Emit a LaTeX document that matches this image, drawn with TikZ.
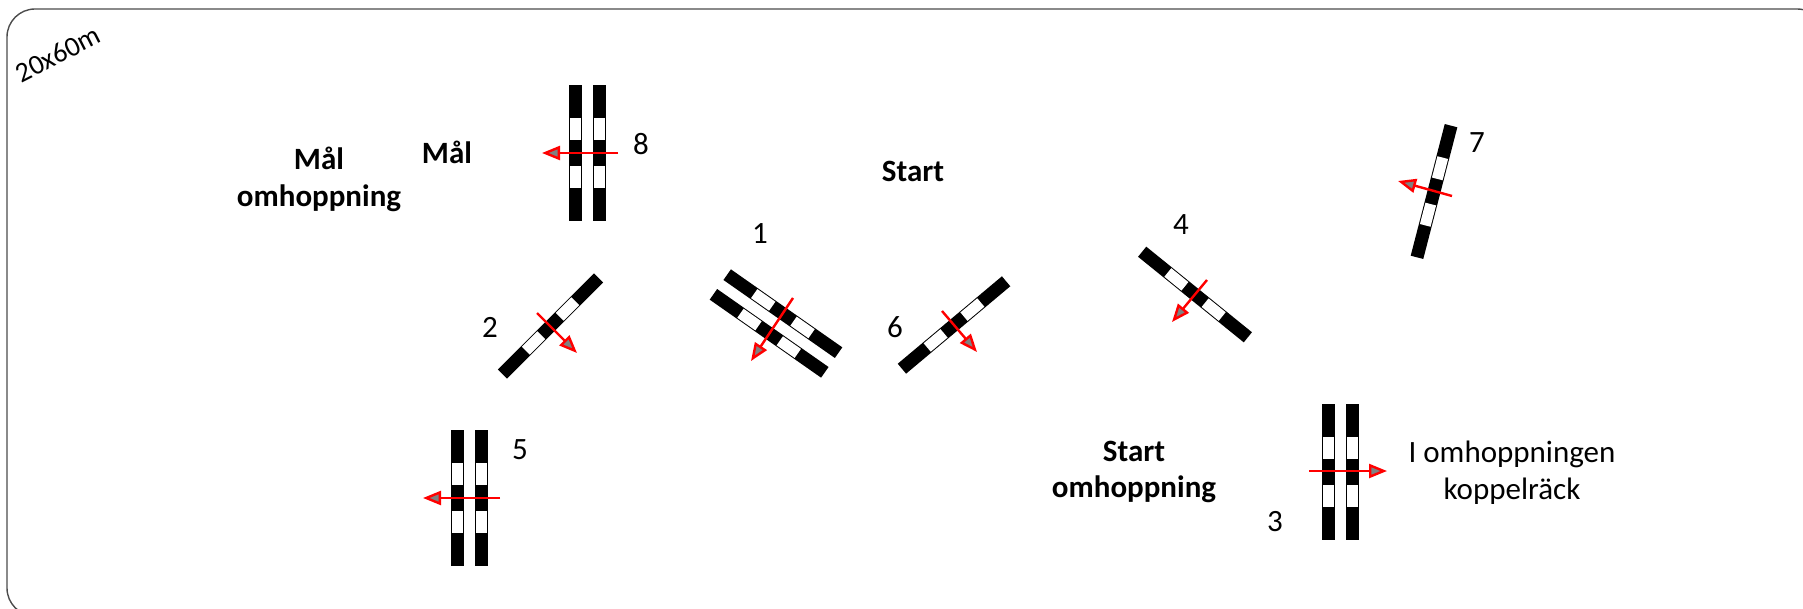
\documentclass[tikz,border=0pt]{standalone}
\usepackage{fontspec}
\setmainfont{Carlito}
\usetikzlibrary{arrows.meta}
\tikzset{
  pole/.pic={
    \fill (-68,-6.5) rectangle (68,6.5);
    \fill[white] (-35,-5.5) rectangle (-13,5.5);
    \fill[white] (13,-5.5) rectangle (35,5.5);
  },
  doublepole/.pic={
    \foreach \o in {-12,12} {
      \fill (-68,\o-6.5) rectangle (68,\o+6.5);
      \fill[white] (-35,\o-5.5) rectangle (-13,\o+5.5);
      \fill[white] (13,\o-5.5) rectangle (35,\o+5.5);
    }
  },
  jumparrow/.style={red, line width=1.2pt,
    -{Triangle[length=9pt, width=7pt, fill=gray]}},
  numlabel/.style={inner sep=0pt, font=\fontsize{15.5}{18}\selectfont},
  signtext/.style={inner sep=0pt, align=center, anchor=base,
    font=\fontsize{15.5}{18}\selectfont\bfseries},
  notetext/.style={inner sep=0pt, align=center, anchor=base,
    font=\fontsize{15.5}{18.5}\selectfont},
}

\begin{document}
\begin{tikzpicture}[x=0.5pt, y=-0.5pt]
  \useasboundingbox (0,0) rectangle (1803,609);
  \clip (0,0) rectangle (1803,609);
  % arena
  \draw[black!70, line width=0.7pt, rounded corners=14pt] (7,9) rectangle (1825,616);
  \node[inner sep=0pt, font=\fontsize{14}{16}\selectfont, rotate=27] (size) at (58,54) {20x60m};

  % texts (base = last line)
  \node[signtext] (goaljump) at (319,206) {Mål\\omhoppning};
  \node[signtext] (goal) at (447,164) {Mål};
  \node[signtext] (start) at (913,182) {Start};
  \node[signtext] (startjump) at (1134,497) {Start\\omhoppning};
  \node[notetext] (note) at (1512,499) {I omhoppningen\\koppelräck};

  % jumps
  \pic[rotate=90] at (587.5,153.5) {doublepole};
  \pic[rotate=-35] at (776,323.5) {doublepole};
  \pic[rotate=45] at (550.5,326) {pole};
  \pic[rotate=40] at (954,325) {pole};
  \pic[rotate=-39] at (1195,294.5) {pole};
  \pic[rotate=75.5] at (1434,191.5) {pole};
  \pic[rotate=90] at (469.5,497.5) {doublepole};
  \pic[rotate=90] at (1340.5,471.5) {doublepole};

  % directions
  \coordinate (s1) at (793,298);   \coordinate (e1) at (751,361);
  \coordinate (s2) at (537,313);   \coordinate (e2) at (577,353);
  \coordinate (s3) at (1309,471);  \coordinate (e3) at (1387,471);
  \coordinate (s4) at (1207,280);  \coordinate (e4) at (1172,322);
  \coordinate (s5) at (500,498);   \coordinate (e5) at (423,498);
  \coordinate (s6) at (942,311);   \coordinate (e6) at (977,352);
  \coordinate (s7) at (1452,196);  \coordinate (e7) at (1398,181);
  \coordinate (s8) at (618,153);   \coordinate (e8) at (542,153);
  \foreach \n in {1,...,8}
    \draw[jumparrow] (s\n) -- (e\n);

  % numbers
  \node[numlabel] (n1) at (760,234) {1};
  \node[numlabel] (n2) at (490,327) {2};
  \node[numlabel] (n3) at (1275,522) {3};
  \node[numlabel] (n4) at (1181,225) {4};
  \node[numlabel] (n5) at (520,450) {5};
  \node[numlabel] (n6) at (895,327) {6};
  \node[numlabel] (n7) at (1477,143) {7};
  \node[numlabel] (n8) at (641,144) {8};
\end{tikzpicture}
\end{document}
